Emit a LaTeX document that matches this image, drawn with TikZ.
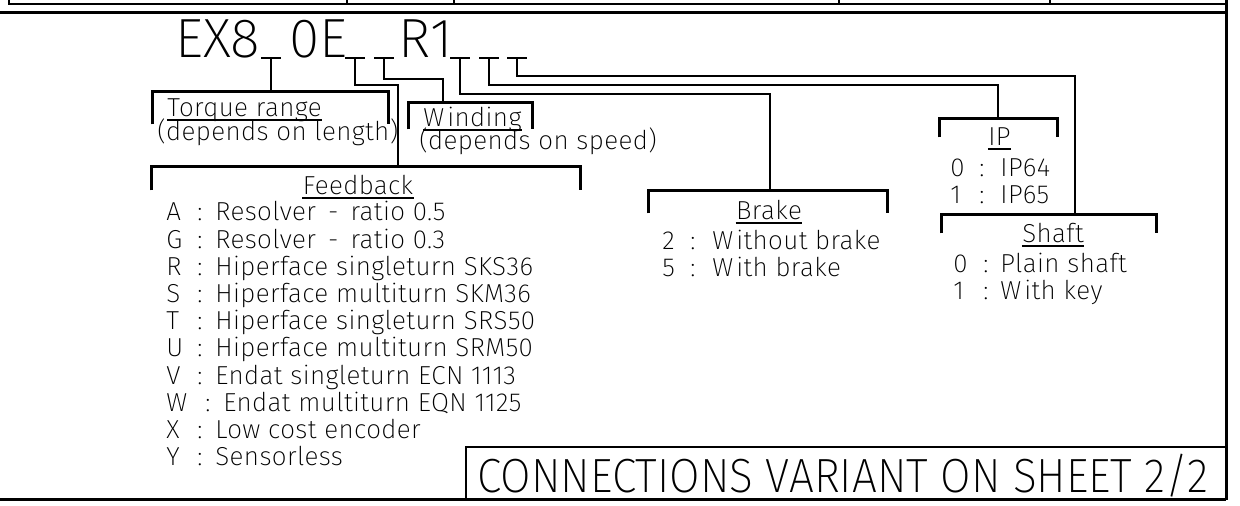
\documentclass[tikz,border=0pt]{standalone}
\usepackage{fontspec}
\usetikzlibrary{fit}
\newfontfamily\isofont{Fira Sans ExtraLight}[LetterSpace=1.5]
\newfontfamily\isobig{Fira Sans ExtraLight}[FakeStretch=1.0]
\newfontfamily\isonote{Fira Sans ExtraLight}[FakeStretch=0.92]
\newcommand{\ent}[4]{\makebox[#1][l]{#3}\makebox[#2][l]{:}#4}
\newcommand{\myul}[1]{\draw[uline] ([yshift=-1.5pt]#1.base west) -- ([yshift=-1.5pt]#1.base east);}
\tikzset{
  conn/.style={line width=1.3pt, line join=miter},
  frameline/.style={line width=1.5pt},
  thinline/.style={line width=0.7pt},
  grp/.style={inner sep=0pt, draw=none},
  txt/.style={anchor=base west, inner sep=0pt, font=\isofont\fontsize{13}{15}\selectfont},
  ttl/.style={anchor=base, inner sep=0pt, font=\isofont\fontsize{13}{15}\selectfont},
  big/.style={anchor=base west, inner sep=0pt, font=\isobig\fontsize{27.6}{30}\selectfont},
  uline/.style={line width=0.6pt},
  tee/.style={line width=0.7pt},
}
\begin{document}
\begin{tikzpicture}[x=0.5pt,y=-0.5pt]
\useasboundingbox (0,0) rectangle (1240,506);
% frame
\draw[frameline] (0,13) -- (1226,13);
\draw[frameline] (1226,0) -- (1226,500);
\draw[frameline] (0,500) -- (1226,500);
\draw[line width=1pt] (9,0) -- (9,4) -- (1226,4);
\foreach \xx in {347,454,839,1050} \draw[thinline] (\xx,0) -- (\xx,4);
% sheet note box
\draw[thinline] (466,500) -- (466,447) -- (1226,447);
\node[anchor=base west, inner sep=0pt, font=\isonote\fontsize{24}{26}\selectfont] (note) at (477,493) {CONNECTIONS VARIANT ON SHEET 2/2};
% part number
\node[big] (pn1) at (175,58) {EX8};
\node[big] (pn2) at (289,58) {0E};
\node[big] (pn3) at (398,58) {R1};
\coordinate (t1) at (271,58);
\coordinate (t2) at (355,58);
\coordinate (t3) at (384,58);
\coordinate (t4) at (460,58);
\coordinate (t5) at (489,58);
\coordinate (t6) at (517,58);
\foreach \tt in {t1,t2,t3,t4,t5,t6} \draw[tee] ([xshift=-5pt]\tt) -- ([xshift=5pt]\tt);
% group brackets
\node[grp, fit={(153,92) (388,124)}] (torque) {};
\node[grp, fit={(409,103) (532,129)}] (winding) {};
\node[grp, fit={(152,167) (580,190)}] (feedback) {};
\node[grp, fit={(649,191) (887,213)}] (brake) {};
\node[grp, fit={(940,119) (1057,137)}] (ip) {};
\node[grp, fit={(942,215) (1156,233)}] (shaft) {};
\foreach \g in {torque,winding,feedback,brake,ip,shaft}
  \draw[conn] (\g.south west) |- (\g.north east) -- (\g.south east);
\coordinate (fbIn) at (398,167);
\coordinate (wdIn) at (443,103);
\coordinate (bkIn) at (770,191);
\coordinate (ipIn) at (998,119);
\coordinate (shIn) at (1075,215);
% connectors
\draw[conn] (t1) -- (t1 |- torque.north);
\draw[conn] (t2) -- ++(0,27) -| (fbIn);
\draw[conn] (t3) -- ++(0,21) -| (wdIn);
\draw[conn] (t4) -- ++(0,36) -| (bkIn);
\draw[conn] (t5) -- ++(0,27) -| (ipIn);
\draw[conn] (t6) -- ++(0,18) -| (shIn);
% torque range
\node[txt] (trT) at (167,117) {Torque range}; \myul{trT}
\node[txt] (trD) at (157,141) {(depends on length)};
% winding
\node[txt] (wdT) at (423,127) {W\kern1.5pt inding}; \myul{wdT}
\node[txt] (wdD) at (419,150) {(depends on speed)};
% feedback
\node[ttl] (fbT) at (358,195) {Feedback}; \myul{fbT}
\node[txt] (fbA) at (166,221.0) {\ent{15.5pt}{9pt}{A}{Resolver \,-\, ratio 0.5}};
\node[txt] (fbG) at (166,248.2) {\ent{15.5pt}{9pt}{G}{Resolver \,-\, ratio 0.3}};
\node[txt] (fbR) at (166,275.4) {\ent{15.5pt}{9pt}{R}{Hiperface singleturn SKS36}};
\node[txt] (fbS) at (166,302.6) {\ent{15.5pt}{9pt}{S}{Hiperface multiturn SKM36}};
\node[txt] (fbTT) at (166,329.8) {\ent{15.5pt}{9pt}{T}{Hiperface singleturn SRS50}};
\node[txt] (fbU) at (166,357.0) {\ent{15.5pt}{9pt}{U}{Hiperface multiturn SRM50}};
\node[txt] (fbV) at (166,384.2) {\ent{15.5pt}{9pt}{V}{Endat singleturn ECN 1113}};
\node[txt] (fbW) at (166,411.4) {\ent{19.5pt}{9pt}{W}{Endat multiturn EQN 1125}};
\node[txt] (fbX) at (166,438.6) {\ent{15.5pt}{9pt}{X}{Low cost encoder}};
\node[txt] (fbY) at (166,465.8) {\ent{15.5pt}{9pt}{Y}{Sensorless}};
% brake
\node[ttl] (bkT) at (769,220) {Brake}; \myul{bkT}
\node[txt] (bk2) at (662,250) {\ent{14pt}{11pt}{2}{W\kern1.5pt ithout brake}};
\node[txt] (bk5) at (662,277) {\ent{14pt}{11pt}{5}{W\kern1.5pt ith brake}};
% IP
\node[ttl] (ipT) at (999.5,146) {IP}; \myul{ipT}
\node[txt] (ip0) at (950,177) {\ent{14.5pt}{10.5pt}{0}{IP64}};
\node[txt] (ip1) at (950,204) {\ent{14.5pt}{10.5pt}{1}{IP65}};
% shaft
\node[ttl] (shT) at (1053,243) {Shaft}; \myul{shT}
\node[txt] (sh0) at (953,273) {\ent{15pt}{8.5pt}{0}{Plain shaft}};
\node[txt] (sh1) at (953,300) {\ent{15pt}{8.5pt}{1}{W\kern1.5pt ith key}};
\end{tikzpicture}
\end{document}
